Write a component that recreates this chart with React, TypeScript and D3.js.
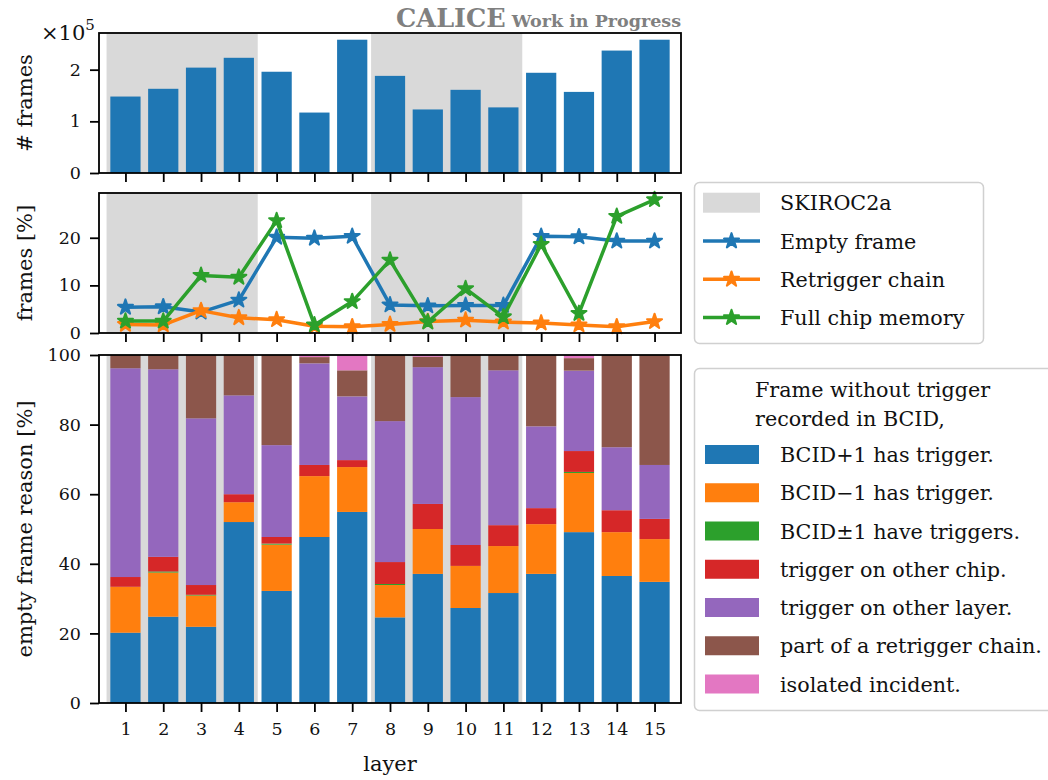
import { useEffect, useRef } from 'react';
import * as d3 from 'd3';

// layer numbers
const layers = [1, 2, 3, 4, 5, 6, 7, 8, 9, 10, 11, 12, 13, 14, 15];
// layers read out with the SKIROC2a chip
const skirocSpans: [number, number][] = [[0.5, 4.5], [7.5, 11.5]];

// number of frames per layer
const nFrames = [148000, 163000, 204000, 223000, 196000, 117000, 258000, 188000, 123000, 161000, 127000, 194000, 157000, 237000, 258000];

// frame fractions [%]
const emptyFrame = [5.4, 5.5, 4.4, 6.9, 20.1, 19.9, 20.3, 5.9, 5.7, 5.8, 5.8, 20.3, 20.2, 19.3, 19.3];
const retriggerChain = [1.8, 1.7, 4.7, 3.2, 2.8, 1.4, 1.3, 1.8, 2.4, 2.7, 2.3, 2.1, 1.7, 1.3, 2.4];
const fullMemory = [2.5, 2.5, 12.1, 11.7, 23.6, 1.7, 6.6, 15.3, 2.3, 9.3, 3.4, 18.6, 4.1, 24.5, 28.0];

// empty frame reasons [%]
const bcidPlus = [20.2, 24.8, 21.9, 52.0, 32.2, 47.7, 54.9, 24.6, 37.1, 27.3, 31.6, 37.1, 49.1, 36.5, 34.8];
const bcidMinus = [13.2, 12.7, 9.0, 5.7, 13.3, 17.5, 12.9, 9.3, 12.9, 12.1, 13.5, 14.3, 17.0, 12.6, 12.3];
const bcidBoth = [0.0, 0.3, 0.2, 0.0, 0.3, 0.0, 0.0, 0.3, 0.0, 0.0, 0.0, 0.0, 0.3, 0.0, 0.0];
const otherChip = [2.8, 4.2, 2.8, 2.3, 1.9, 3.2, 2.0, 6.3, 7.2, 6.0, 6.0, 4.6, 6.0, 6.3, 5.8];
const otherLayer = [60.0, 53.9, 47.9, 28.4, 26.4, 29.2, 18.3, 40.5, 39.3, 42.5, 44.5, 23.5, 23.1, 18.1, 15.5];
const retriggerPart = [3.8, 4.1, 18.2, 11.6, 25.9, 1.8, 7.5, 19.0, 3.0, 12.1, 4.4, 20.5, 3.6, 26.5, 31.6];
const isolated = [0.0, 0.0, 0.0, 0.0, 0.0, 0.6, 4.4, 0.0, 0.5, 0.0, 0.0, 0.0, 0.9, 0.0, 0.0];

const reasonLabels = [
    'BCID+1 has trigger.',
    'BCID\u22121 has trigger.',
    'BCID\u00b11 have triggers.',
    'trigger on other chip.',
    'trigger on other layer.',
    'part of a retrigger chain.',
    'isolated incident.',
];
const reasonColors = ['#1f77b4', '#ff7f0e', '#2ca02c', '#d62728', '#9467bd', '#8c564b', '#e377c2'];

const FONT = 'DejaVu Serif';
const GRAY = '#d9d9d9';
const LEGEND_FS = 20.7;

const App: React.FC = () => {
    const svgRef = useRef<SVGSVGElement>(null);

    useEffect(() => {
        if (!svgRef.current) return;
        const svg = d3.select(svgRef.current);
        svg.selectAll('*').remove();
        svg.attr('font-family', FONT);

        const left = 99, right = 681;
        const x = d3.scaleLinear().domain([0.3, 15.7]).range([left, right]);

        const panels = {
            top: { y0: 33, y1: 173 },
            mid: { y0: 193, y1: 333 },
            bot: { y0: 355, y1: 703 },
        };

        const yTop = d3.scaleLinear().domain([0, 271000]).range([panels.top.y1, panels.top.y0]);
        const yMid = d3.scaleLinear().domain([0, 29.4]).range([panels.mid.y1, panels.mid.y0]);
        const yBot = d3.scaleLinear().domain([0, 100]).range([panels.bot.y1, panels.bot.y0]);

        // shaded SKIROC2a spans
        const drawSpans = (p: { y0: number; y1: number }) => {
            svg.append('g').selectAll('rect')
                .data(skirocSpans)
                .join('rect')
                .attr('x', d => x(d[0]))
                .attr('width', d => x(d[1]) - x(d[0]))
                .attr('y', p.y0)
                .attr('height', p.y1 - p.y0)
                .attr('fill', GRAY);
        };

        const drawAxes = (p: { y0: number; y1: number }, y: d3.ScaleLinear<number, number>,
            yTicks: number[], yFmt: (d: number) => string, xLabels: boolean) => {
            const gy = svg.append('g')
                .attr('transform', `translate(${left},0)`)
                .call(d3.axisLeft(y).tickValues(yTicks).tickSize(9).tickPadding(9)
                    .tickFormat(d => yFmt(+d)));
            const gx = svg.append('g')
                .attr('transform', `translate(0,${p.y1})`)
                .call(d3.axisBottom(x).tickValues(layers).tickSize(9).tickPadding(11)
                    .tickFormat(d => (xLabels ? String(d) : '')));
            [gy, gx].forEach(g => {
                g.select('.domain').remove();
                g.selectAll('line').attr('stroke', '#000').attr('stroke-width', 1.8);
                g.selectAll('text').attr('font-family', FONT).attr('font-size', 17.5).attr('fill', '#111');
            });
            svg.append('rect')
                .attr('x', left).attr('y', p.y0)
                .attr('width', right - left).attr('height', p.y1 - p.y0)
                .attr('fill', 'none').attr('stroke', '#000').attr('stroke-width', 1.8);
        };

        const yLabel = (text: string, p: { y0: number; y1: number }) => {
            svg.append('text')
                .attr('transform', `translate(32,${(p.y0 + p.y1) / 2}) rotate(-90)`)
                .attr('text-anchor', 'middle')
                .attr('font-size', 21)
                .attr('fill', '#111')
                .text(text);
        };

        // ---------- top panel: number of frames ----------
        drawSpans(panels.top);
        svg.append('g').selectAll('rect')
            .data(layers)
            .join('rect')
            .attr('x', d => x(d - 0.4))
            .attr('width', x(1.4) - x(0.6))
            .attr('y', (d, i) => yTop(nFrames[i]))
            .attr('height', (d, i) => yTop(0) - yTop(nFrames[i]))
            .attr('fill', '#1f77b4');
        drawAxes(panels.top, yTop, [0, 100000, 200000], d => String(d / 1e5), false);
        yLabel('# frames', panels.top);

        const mult = svg.append('text')
            .attr('x', 41).attr('y', 40)
            .attr('font-size', 21).attr('fill', '#111');
        mult.append('tspan').text('\u00d710');
        mult.append('tspan').attr('font-size', 15).attr('dy', -10).text('5');

        const cal = svg.append('text')
            .attr('x', 681).attr('y', 27)
            .attr('text-anchor', 'end')
            .attr('font-weight', 'bold')
            .attr('fill', '#808080');
        cal.append('tspan').attr('font-size', 25.5).text('CALICE');
        cal.append('tspan').attr('font-size', 17.5).text(' Work in Progress');

        // ---------- middle panel: frame fractions ----------
        drawSpans(panels.mid);
        const series = [
            { name: 'Empty frame', values: emptyFrame, color: '#1f77b4' },
            { name: 'Retrigger chain', values: retriggerChain, color: '#ff7f0e' },
            { name: 'Full chip memory', values: fullMemory, color: '#2ca02c' },
        ];
        const line = d3.line<number>()
            .x((d, i) => x(layers[i]))
            .y(d => yMid(d));
        const star = d3.symbol().type(d3.symbolStar).size(70);
        series.forEach(s => {
            svg.append('path')
                .datum(s.values)
                .attr('d', line)
                .attr('fill', 'none')
                .attr('stroke', s.color)
                .attr('stroke-width', 3.5)
                .attr('stroke-linejoin', 'round');
            svg.append('g').selectAll('path')
                .data(s.values)
                .join('path')
                .attr('transform', (d, i) => `translate(${x(layers[i])},${yMid(d)})`)
                .attr('d', star)
                .attr('fill', s.color)
                .attr('stroke', s.color)
                .attr('stroke-width', 2)
                .attr('stroke-linejoin', 'round');
        });
        drawAxes(panels.mid, yMid, [0, 10, 20], d => String(d), false);
        yLabel('frames [%]', panels.mid);

        // legend 1
        const lg1 = svg.append('g');
        lg1.append('rect')
            .attr('x', 694.5).attr('y', 182.5).attr('width', 289).attr('height', 161)
            .attr('rx', 5).attr('fill', '#fff').attr('stroke', '#d0d0d0').attr('stroke-width', 1.5);
        const row1 = (i: number) => 202.7 + i * 38.3;
        lg1.append('rect')
            .attr('x', 703).attr('y', row1(0) - 10).attr('width', 57).attr('height', 20)
            .attr('fill', GRAY);
        lg1.append('text').attr('x', 780).attr('y', row1(0) + 7.5)
            .attr('font-size', LEGEND_FS).attr('fill', '#111').text('SKIROC2a');
        series.forEach((s, i) => {
            const cy = row1(i + 1);
            lg1.append('line')
                .attr('x1', 703).attr('x2', 760).attr('y1', cy).attr('y2', cy)
                .attr('stroke', s.color).attr('stroke-width', 3.5);
            lg1.append('path')
                .attr('transform', `translate(731.5,${cy})`)
                .attr('d', star)
                .attr('fill', s.color).attr('stroke', s.color).attr('stroke-width', 2)
                .attr('stroke-linejoin', 'round');
            lg1.append('text').attr('x', 780).attr('y', cy + 7.5)
                .attr('font-size', LEGEND_FS).attr('fill', '#111').text(s.name);
        });

        // ---------- bottom panel: empty frame reasons ----------
        drawSpans(panels.bot);
        const reasons = [bcidPlus, bcidMinus, bcidBoth, otherChip, otherLayer, retriggerPart, isolated];
        const table = layers.map((l, i) => {
            const row: Record<string, number> = { layer: l };
            reasons.forEach((r, k) => { row['r' + k] = r[i]; });
            return row;
        });
        const stack = d3.stack<Record<string, number>>().keys(reasons.map((_, k) => 'r' + k));
        const stacked = stack(table);
        stacked.forEach((layerSeries, k) => {
            svg.append('g').selectAll('rect')
                .data(layerSeries)
                .join('rect')
                .attr('x', d => x(d.data.layer - 0.4))
                .attr('width', x(1.4) - x(0.6))
                .attr('y', d => yBot(d[1]))
                .attr('height', d => yBot(d[0]) - yBot(d[1]))
                .attr('fill', reasonColors[k]);
        });
        drawAxes(panels.bot, yBot, [0, 20, 40, 60, 80, 100], d => String(d), true);
        yLabel('empty frame reason [%]', panels.bot);

        svg.append('text')
            .attr('x', (left + right) / 2).attr('y', 771)
            .attr('text-anchor', 'middle')
            .attr('font-size', 21).attr('fill', '#111')
            .text('layer');

        // legend 2
        const lg2 = svg.append('g');
        lg2.append('rect')
            .attr('x', 694.5).attr('y', 368.5).attr('width', 370).attr('height', 342)
            .attr('rx', 5).attr('fill', '#fff').attr('stroke', '#d0d0d0').attr('stroke-width', 1.5);
        lg2.append('text').attr('x', 755).attr('y', 397)
            .attr('font-size', LEGEND_FS).attr('fill', '#111').text('Frame without trigger');
        lg2.append('text').attr('x', 755).attr('y', 426)
            .attr('font-size', LEGEND_FS).attr('fill', '#111').text('recorded in BCID,');
        reasonLabels.forEach((label, i) => {
            const cy = 454.5 + i * 38.25;
            lg2.append('rect')
                .attr('x', 705).attr('y', cy - 9.5).attr('width', 54).attr('height', 19)
                .attr('fill', reasonColors[i]);
            lg2.append('text').attr('x', 780).attr('y', cy + 7.5)
                .attr('font-size', LEGEND_FS).attr('fill', '#111').text(label);
        });
    }, []);

    return (
        <svg ref={svgRef} width={1048} height={780}
            style={{ position: 'absolute', left: 0, top: 0, background: '#fff' }} />
    );
};

export default App;
